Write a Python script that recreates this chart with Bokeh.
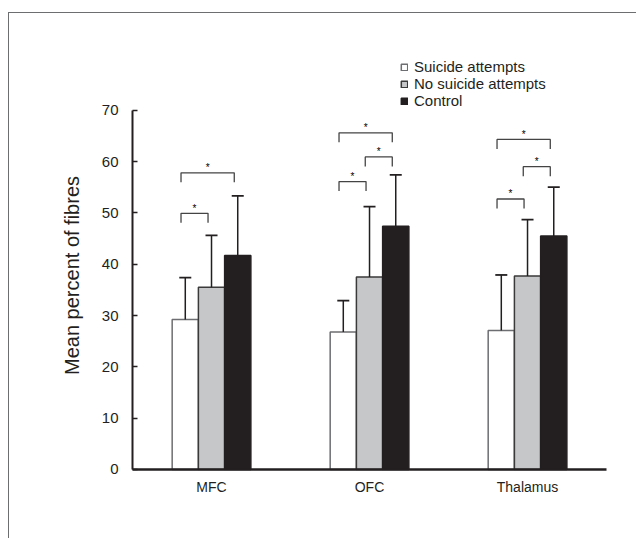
from bokeh.plotting import figure
from bokeh.models import (ColumnDataSource, Range1d, FixedTicker, Legend, LegendItem, Label)
from bokeh.transform import dodge
from bokeh.core.properties import value
from bokeh.embed import file_html
from bokeh.resources import INLINE

# ---- data ----
categories = ["MFC", "OFC", "Thalamus"]
series_names = ["Suicide attempts", "No suicide attempts", "Control"]
suicide = [29.2, 26.8, 27.1]
no_suicide = [35.5, 37.5, 37.7]
control = [41.7, 47.4, 45.5]
suicide_err = [8.2, 6.1, 10.8]
no_suicide_err = [10.1, 13.7, 11.0]
control_err = [11.6, 10.0, 9.5]
y_ticks = [0, 10, 20, 30, 40, 50, 60, 70]
y_title = "Mean percent of fibres"

# significance brackets: (group index, left series, right series, bracket level)
sig_group = [0, 0, 1, 1, 1, 2, 2, 2]
sig_left = [0, 0, 0, 1, 0, 0, 1, 0]
sig_right = [1, 2, 1, 2, 2, 1, 2, 2]
sig_level = [49.9, 57.8, 56.1, 60.9, 65.6, 52.7, 59.0, 64.3]

FONT = "Liberation Sans"
BAR_W = 0.166
offsets = [-BAR_W, 0.0, BAR_W]
fills = ["#ffffff", "#c6c7c8", "#231f20"]
edges = ["#6d6e71", "#3a3a3a", "#231f20"]
ink = "#231f20"

centers = [i + 0.5 for i in range(len(categories))]
values = [suicide, no_suicide, control]
errors = [suicide_err, no_suicide_err, control_err]

# the frame covers the whole canvas; axes are pinned at x=0 / y=0
p = figure(width=628, height=526, output_backend="svg", toolbar_location=None,
           x_range=Range1d(-0.7785, 3.196), y_range=Range1d(-13.64, 88.84),
           min_border_left=0, min_border_right=0, min_border_top=0,
           min_border_bottom=0)
p.styles = {"border-left": "1px solid #6d6e70", "border-top": "1px solid #6d6e70",
            "margin-top": "12px", "margin-left": "8px"}
p.outline_line_color = None
p.grid.visible = False
p.background_fill_color = "white"

renderers = []
for k in range(3):
    src = ColumnDataSource(dict(x=centers, top=values[k],
                                err_top=[v + e for v, e in zip(values[k], errors[k])]))
    r = p.vbar(x=dodge("x", offsets[k]), top="top", width=BAR_W, bottom=0, source=src,
               fill_color=fills[k], line_color=edges[k], line_width=1.5)
    renderers.append(r)
    # error bars (upper only)
    p.segment(x0=dodge("x", offsets[k]), x1=dodge("x", offsets[k]), y0="top", y1="err_top",
              source=src, line_color=ink, line_width=1.5)
    p.segment(x0=dodge("x", offsets[k] - 0.038), x1=dodge("x", offsets[k] + 0.038),
              y0="err_top", y1="err_top", source=src, line_color=ink, line_width=1.8)

# significance brackets
leg = 1.85
xs, ys, sx, sy = [], [], [], []
for g, a, b, lv in zip(sig_group, sig_left, sig_right, sig_level):
    xa = centers[g] + offsets[a] - 0.027
    xb = centers[g] + offsets[b] - 0.022
    xs.append([xa, xa, xb, xb])
    ys.append([lv - leg, lv, lv, lv - leg])
    sx.append((xa + xb) / 2)
    sy.append(lv + 1.0)
p.multi_line(xs=xs, ys=ys, line_color="#444444", line_width=1.3)
p.text(x=sx, y=sy, text=["*"] * len(sx), text_align="center", text_baseline="middle",
       text_font=value(FONT), text_font_size="10px", text_color="black")

# axes
p.xaxis.fixed_location = 0
p.xaxis.bounds = (0, 3)
p.xaxis.ticker = FixedTicker(ticks=centers)
p.xaxis.major_label_overrides = {c: n for c, n in zip(centers, categories)}
p.xaxis.major_tick_line_color = None
p.xaxis.minor_tick_line_color = None
p.xaxis.axis_line_width = 2.5
p.xaxis.axis_line_color = ink
p.xaxis.major_label_text_font = FONT
p.xaxis.major_label_text_font_size = "14px"
p.xaxis.major_label_text_color = ink
p.xaxis.major_label_standoff = 4

p.yaxis.fixed_location = 0
p.yaxis.bounds = (0, 70)
p.yaxis.ticker = FixedTicker(ticks=y_ticks)
p.yaxis.major_tick_in = 5
p.yaxis.major_tick_out = 0
p.yaxis.major_tick_line_width = 1.5
p.yaxis.major_tick_line_color = ink
p.yaxis.minor_tick_line_color = None
p.yaxis.axis_line_width = 2
p.yaxis.axis_line_color = ink
p.yaxis.major_label_text_font = FONT
p.yaxis.major_label_text_font_size = "15px"
p.yaxis.major_label_text_color = ink
p.yaxis.major_label_standoff = 14

title = Label(x=-0.38, y=37.8, text=y_title, angle=90, angle_units="deg",
              text_align="center", text_baseline="middle", text_font=FONT,
              text_font_size="20px", text_color=ink)
p.add_layout(title)

legend = Legend(items=[LegendItem(label=n, renderers=[r]) for n, r in zip(series_names, renderers)],
                location=(391, 430), orientation="vertical",
                glyph_width=8, glyph_height=8, label_standoff=6, spacing=0,
                label_height=16, padding=0, margin=0,
                label_text_font=FONT, label_text_font_size="15px", label_text_color=ink,
                border_line_color=None, background_fill_alpha=0)
p.add_layout(legend, "center")

open("out.html", "w").write(file_html(p, INLINE))
